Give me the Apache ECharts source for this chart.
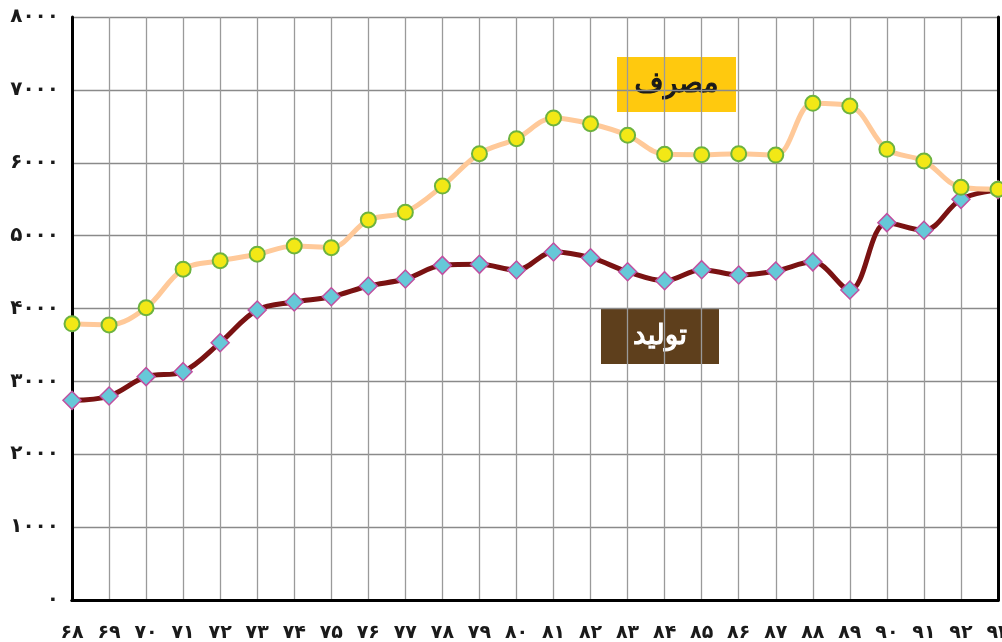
<!DOCTYPE html>
<html>
<head>
<meta charset="utf-8">
<script src="https://cdn.jsdelivr.net/npm/echarts@6/dist/echarts.min.js"></script>
<style>
  html, body { margin: 0; padding: 0; background: #fff; }
  #chart { width: 1002px; height: 642px; }
</style>
</head>
<body>
<div id="chart"></div>
<script>
// سال‌ها (۶۸ تا ۹۳)
const years = ['۶۸', '۶۹', '۷۰', '۷۱', '۷۲', '۷۳', '۷۴', '۷۵', '۷۶', '۷۷', '۷۸', '۷۹', '۸۰',
  '۸۱', '۸۲', '۸۳', '۸۴', '۸۵', '۸۶', '۸۷', '۸۸', '۸۹', '۹۰', '۹۱', '۹۲', '۹۳'];
const yTickLabels = ['۰', '۱۰۰۰', '۲۰۰۰', '۳۰۰۰', '۴۰۰۰', '۵۰۰۰', '۶۰۰۰', '۷۰۰۰', '۸۰۰۰'];

// مصرف
const consumption = [3790, 3775, 4010, 4540, 4655, 4745, 4858, 4835, 5215, 5320, 5680, 6125, 6330,
  6615, 6535, 6377, 6116, 6111, 6125, 6105, 6816, 6779, 6184, 6024, 5663, 5636];
// تولید
const production = [2740, 2799, 3065, 3133, 3531, 3979, 4089, 4162, 4309, 4405, 4592, 4606, 4528,
  4775, 4697, 4505, 4382, 4533, 4460, 4515, 4640, 4254, 5178, 5073, 5498, 5630];

const chart = echarts.init(document.getElementById('chart'));
const option = {
  animation: false,
  grid: { left: 72, right: 4, top: 17, bottom: 42, outerBoundsMode: 'none' },
  xAxis: [
    {
      type: 'category',
      data: years,
      boundaryGap: false,
      axisLine: { lineStyle: { color: '#000', width: 3 } },
      axisTick: { show: false },
      axisLabel: { color: '#1a1a1a', fontSize: 19, fontWeight: 'bold', fontFamily: 'DejaVu Sans', margin: 24, interval: 0 },
      splitLine: { show: true, lineStyle: { color: '#9a9a9a', width: 1.3 } }
    },
    {
      type: 'category',
      data: years,
      boundaryGap: false,
      position: 'top',
      axisLine: { lineStyle: { color: '#000', width: 3 } },
      axisTick: { show: false },
      axisLabel: { show: false },
      splitLine: { show: false }
    }
  ],
  yAxis: [
    {
      type: 'value',
      min: 0,
      max: 8000,
      interval: 1000,
      axisLine: { show: true, lineStyle: { color: '#000', width: 3 } },
      axisTick: { show: false },
      axisLabel: {
        color: '#1a1a1a', fontSize: 20, fontWeight: 'bold', fontFamily: 'DejaVu Sans', margin: 13,
        formatter: v => yTickLabels[Math.round(v / 1000)]
      },
      splitLine: { show: true, lineStyle: { color: '#8a8a8a', width: 1.3 } }
    },
    {
      type: 'value',
      min: 0,
      max: 8000,
      interval: 1000,
      position: 'right',
      axisLine: { show: true, lineStyle: { color: '#000', width: 3 } },
      axisTick: { show: false },
      axisLabel: { show: false },
      splitLine: { show: false }
    }
  ],
  series: [
    {
      name: 'تولید',
      type: 'line',
      smooth: 0.35,
      data: production,
      symbol: 'diamond',
      symbolSize: 18,
      lineStyle: { color: '#7a1212', width: 5 },
      itemStyle: { color: '#66c8d8', borderColor: '#c050a0', borderWidth: 1.5 },
      z: 3
    },
    {
      name: 'مصرف',
      type: 'line',
      smooth: 0.35,
      data: consumption,
      symbol: 'circle',
      symbolSize: 15,
      lineStyle: { color: '#ffc999', width: 5 },
      itemStyle: { color: '#f2e816', borderColor: '#6db33f', borderWidth: 2 },
      z: 4
    }
  ],
  graphic: [
    {
      type: 'group',
      left: 617,
      top: 57,
      children: [
        { type: 'rect', shape: { x: 0, y: 0, width: 119, height: 55 }, style: { fill: '#ffc90e' } },
        {
          type: 'text', x: 59.5, y: 27.5,
          style: {
            text: 'مصرف', fill: '#1a1a1a', stroke: '#1a1a1a', lineWidth: 1.2,
            font: '28px "DejaVu Sans"', align: 'center', verticalAlign: 'middle'
          }
        }
      ]
    },
    {
      type: 'group',
      left: 601,
      top: 309,
      children: [
        { type: 'rect', shape: { x: 0, y: 0, width: 118, height: 55 }, style: { fill: '#5e3f1c' } },
        {
          type: 'text', x: 59, y: 27.5,
          style: {
            text: 'تولید', fill: '#ffffff', stroke: '#ffffff', lineWidth: 1.2,
            font: '28px "DejaVu Sans"', align: 'center', verticalAlign: 'middle'
          }
        }
      ]
    }
  ]
};
option && chart.setOption(option);
</script>
</body>
</html>
